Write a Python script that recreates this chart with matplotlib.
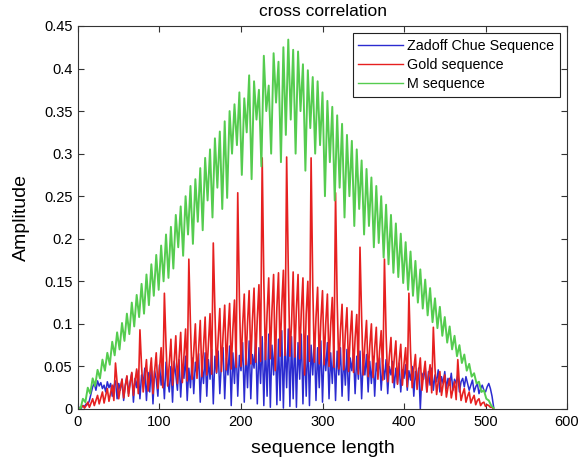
import numpy as np
import matplotlib
matplotlib.use("Agg")
import matplotlib.pyplot as plt

plt.rcParams["font.family"] = ["Liberation Sans", "DejaVu Sans"]

# sample spacing of the values
ZC_STEP = 2
GOLD_STEP = 2
M_STEP = 3

zadoff_chu = [
    0.000, 0.002, 0.001, 0.004, 0.003, 0.006, 0.005, 0.010, 0.018, 0.026,
    0.030, 0.022, 0.033, 0.027, 0.031, 0.024, 0.028, 0.020, 0.032, 0.025,
    0.030, 0.015, 0.027, 0.033, 0.012, 0.030, 0.022, 0.035, 0.010, 0.028,
    0.038, 0.018, 0.032, 0.042, 0.008, 0.036, 0.025, 0.045, 0.012, 0.040,
    0.030, 0.048, 0.010, 0.043, 0.020, 0.050, 0.006, 0.045, 0.035, 0.015,
    0.052, 0.028, 0.046, 0.012, 0.055, 0.033, 0.020, 0.050, 0.008, 0.056,
    0.040, 0.022, 0.058, 0.014, 0.050, 0.036, 0.062, 0.010, 0.048, 0.025,
    0.060, 0.018, 0.055, 0.040, 0.065, 0.008, 0.052, 0.030, 0.066, 0.015,
    0.058, 0.035, 0.070, 0.006, 0.062, 0.042, 0.068, 0.018, 0.055, 0.072,
    0.012, 0.060, 0.040, 0.074, 0.004, 0.066, 0.030, 0.076, 0.015, 0.063,
    0.045, 0.078, 0.008, 0.070, 0.025, 0.080, 0.012, 0.064, 0.048, 0.082,
    0.006, 0.072, 0.030, 0.085, 0.004, 0.078, 0.015, 0.088, 0.002, 0.075,
    0.040, 0.090, 0.005, 0.082, 0.010, 0.092, 0.001, 0.080, 0.025, 0.094,
    0.003, 0.085, 0.012, 0.090, 0.002, 0.078, 0.035, 0.088, 0.006, 0.080,
    0.015, 0.086, 0.004, 0.075, 0.040, 0.084, 0.010, 0.072, 0.025, 0.080,
    0.008, 0.070, 0.045, 0.078, 0.012, 0.066, 0.030, 0.074, 0.010, 0.068,
    0.040, 0.072, 0.015, 0.064, 0.028, 0.070, 0.010, 0.060, 0.045, 0.066,
    0.018, 0.062, 0.035, 0.068, 0.012, 0.058, 0.040, 0.064, 0.020, 0.056,
    0.030, 0.062, 0.015, 0.054, 0.042, 0.060, 0.022, 0.052, 0.035, 0.058,
    0.018, 0.050, 0.040, 0.056, 0.025, 0.048, 0.030, 0.054, 0.020, 0.046,
    0.036, 0.052, 0.022, 0.045, 0.034, 0.050, 0.015, 0.044, 0.030, 0.048,
    0.000, 0.042, 0.035, 0.050, 0.020, 0.044, 0.028, 0.048, 0.022, 0.040,
    0.032, 0.046, 0.020, 0.038, 0.030, 0.044, 0.024, 0.036, 0.028, 0.042,
    0.022, 0.035, 0.030, 0.040, 0.020, 0.032, 0.036, 0.026, 0.038, 0.030,
    0.022, 0.028, 0.034, 0.020, 0.026, 0.030, 0.018, 0.024, 0.028, 0.022,
    0.020, 0.026, 0.030, 0.024, 0.015, 0.002,
]

gold = [
    0.000, 0.001, 0.002, 0.004, 0.001, 0.004, 0.008, 0.002, 0.007, 0.012,
    0.004, 0.010, 0.016, 0.006, 0.013, 0.020, 0.007, 0.016, 0.024, 0.009,
    0.019, 0.028, 0.010, 0.054, 0.031, 0.012, 0.025, 0.035, 0.013, 0.027,
    0.039, 0.015, 0.030, 0.043, 0.016, 0.033, 0.047, 0.018, 0.093, 0.050,
    0.020, 0.038, 0.058, 0.021, 0.041, 0.060, 0.018, 0.044, 0.066, 0.024,
    0.047, 0.072, 0.025, 0.136, 0.075, 0.027, 0.053, 0.082, 0.028, 0.056,
    0.086, 0.030, 0.060, 0.090, 0.031, 0.062, 0.094, 0.033, 0.176, 0.098,
    0.035, 0.068, 0.100, 0.036, 0.071, 0.104, 0.038, 0.074, 0.108, 0.040,
    0.077, 0.112, 0.041, 0.195, 0.115, 0.043, 0.083, 0.118, 0.044, 0.087,
    0.122, 0.046, 0.090, 0.124, 0.047, 0.093, 0.128, 0.049, 0.254, 0.131,
    0.050, 0.098, 0.135, 0.052, 0.101, 0.139, 0.053, 0.104, 0.142, 0.055,
    0.107, 0.146, 0.056, 0.295, 0.150, 0.058, 0.112, 0.154, 0.059, 0.116,
    0.158, 0.045, 0.119, 0.160, 0.062, 0.121, 0.163, 0.063, 0.296, 0.165,
    0.062, 0.100, 0.161, 0.061, 0.118, 0.158, 0.059, 0.115, 0.154, 0.040,
    0.112, 0.150, 0.056, 0.295, 0.146, 0.055, 0.107, 0.143, 0.053, 0.104,
    0.139, 0.052, 0.101, 0.135, 0.050, 0.098, 0.131, 0.049, 0.254, 0.127,
    0.047, 0.092, 0.123, 0.046, 0.089, 0.119, 0.044, 0.086, 0.115, 0.043,
    0.083, 0.111, 0.041, 0.190, 0.107, 0.040, 0.077, 0.104, 0.038, 0.074,
    0.100, 0.037, 0.071, 0.096, 0.035, 0.068, 0.092, 0.034, 0.176, 0.088,
    0.032, 0.062, 0.084, 0.031, 0.059, 0.080, 0.029, 0.056, 0.076, 0.028,
    0.053, 0.072, 0.026, 0.136, 0.068, 0.025, 0.047, 0.064, 0.023, 0.044,
    0.060, 0.022, 0.041, 0.056, 0.020, 0.038, 0.052, 0.019, 0.096, 0.048,
    0.017, 0.032, 0.044, 0.016, 0.029, 0.040, 0.014, 0.026, 0.036, 0.013,
    0.023, 0.032, 0.011, 0.058, 0.028, 0.010, 0.018, 0.024, 0.008, 0.015,
    0.020, 0.007, 0.012, 0.016, 0.005, 0.010, 0.012, 0.004, 0.007, 0.008,
    0.003, 0.005, 0.004, 0.002, 0.002, 0.000,
]

m_sequence = [
    0.002, 0.000, 0.012, 0.008, 0.025, 0.018, 0.036, 0.027, 0.046, 0.036,
    0.058, 0.045, 0.066, 0.052, 0.079, 0.063, 0.090, 0.070, 0.101, 0.080,
    0.112, 0.088, 0.125, 0.097, 0.134, 0.108, 0.147, 0.112, 0.158, 0.122,
    0.170, 0.133, 0.181, 0.140, 0.192, 0.150, 0.205, 0.154, 0.214, 0.165,
    0.228, 0.190, 0.238, 0.180, 0.250, 0.205, 0.262, 0.194, 0.270, 0.220,
    0.283, 0.210, 0.295, 0.245, 0.305, 0.225, 0.318, 0.260, 0.326, 0.235,
    0.338, 0.248, 0.350, 0.300, 0.358, 0.310, 0.372, 0.275, 0.365, 0.325,
    0.392, 0.270, 0.385, 0.340, 0.375, 0.285, 0.415, 0.350, 0.380, 0.300,
    0.418, 0.360, 0.408, 0.290, 0.425, 0.322, 0.434, 0.340, 0.422, 0.300,
    0.420, 0.350, 0.405, 0.280, 0.398, 0.330, 0.390, 0.300, 0.385, 0.310,
    0.372, 0.250, 0.362, 0.290, 0.355, 0.245, 0.345, 0.260, 0.335, 0.225,
    0.322, 0.250, 0.315, 0.215, 0.305, 0.235, 0.292, 0.205, 0.282, 0.215,
    0.272, 0.190, 0.262, 0.195, 0.250, 0.178, 0.240, 0.170, 0.228, 0.160,
    0.218, 0.155, 0.206, 0.148, 0.196, 0.140, 0.185, 0.133, 0.174, 0.125,
    0.164, 0.118, 0.152, 0.110, 0.142, 0.102, 0.130, 0.095, 0.120, 0.086,
    0.108, 0.078, 0.097, 0.070, 0.086, 0.062, 0.075, 0.054, 0.064, 0.045,
    0.053, 0.038, 0.042, 0.030, 0.032, 0.020, 0.022, 0.012, 0.010, 0.004,
    0.001,
]

labels = ["Zadoff Chue Sequence", "Gold sequence", "M sequence"]
colors = ["#2b2bd0", "#e62020", "#55cc4f"]
widths = [1.1, 1.2, 1.4]
x_ticks = [0, 100, 200, 300, 400, 500, 600]
y_ticks = [0, 0.05, 0.1, 0.15, 0.2, 0.25, 0.3, 0.35, 0.4, 0.45]

fig = plt.figure(figsize=(5.86, 4.68), dpi=100)
ax = fig.add_axes([0.1331, 0.1261, 0.8345, 0.8184])

series = [(zadoff_chu, ZC_STEP), (gold, GOLD_STEP), (m_sequence, M_STEP)]
for (vals, step), lab, col, lw in zip(series, labels, colors, widths):
    x = np.arange(len(vals)) * step
    ax.plot(x, vals, color=col, lw=lw, label=lab)

ax.set_xlim(0, 600)
ax.set_ylim(0, 0.45)
ax.set_xticks(x_ticks)
ax.set_yticks(y_ticks)
ax.set_yticklabels([f"{v:g}" for v in y_ticks])
ax.tick_params(direction="in", length=4, top=True, right=True,
               labelsize=10.5, pad=4, color="#333333")
for s in ax.spines.values():
    s.set_color("#333333")
    s.set_linewidth(0.8)

ax.set_title("cross correlation", fontsize=12.5, pad=7)
ax.set_xlabel("sequence length", fontsize=14, labelpad=8)
ax.set_ylabel("Amplitude", fontsize=14, labelpad=10)

leg = ax.legend(loc="upper right", fontsize=10.3, handlelength=3.1,
                fancybox=False, framealpha=1, edgecolor="#222222",
                borderaxespad=0.5, labelspacing=0.35, handletextpad=0.3)
leg.get_frame().set_linewidth(0.8)
for line in leg.get_lines():
    line.set_linewidth(1.0)

fig.savefig("out.png", dpi=100)
plt.close(fig)
